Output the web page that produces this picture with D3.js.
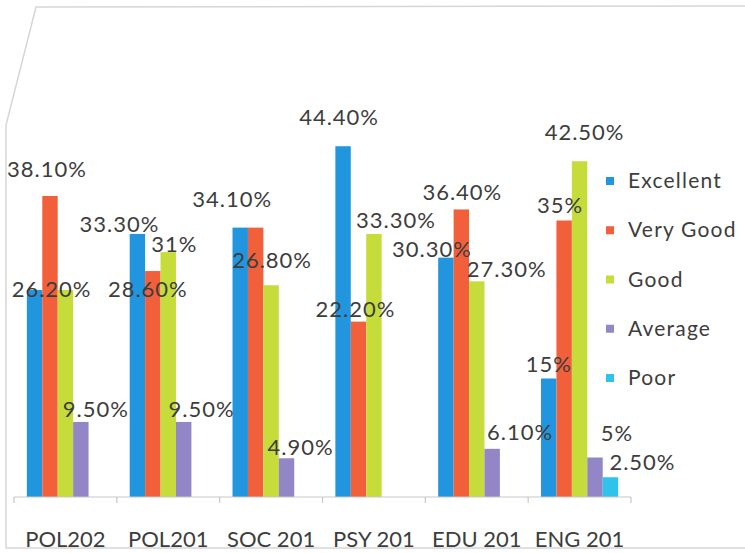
<!DOCTYPE html>
<html>
<head>
<meta charset="utf-8">
<script src="https://cdn.jsdelivr.net/npm/d3@7"></script>
<style>
  html, body { margin: 0; padding: 0; background: #ffffff; }
  svg { display: block; }
  text { font-family: Lato, "Open Sans", "DejaVu Sans", sans-serif; }
</style>
</head>
<body>
<script>
// ---------- data ----------
const categories = ["POL202", "POL201", "SOC 201", "PSY 201", "EDU 201", "ENG 201"];
const seriesNames = ["Excellent", "Very Good", "Good", "Average", "Poor"];
const excellent = [26.2, 33.3, 34.1, 44.4, 30.3, 15];
const veryGood  = [38.1, 28.6, 34.1, 22.2, 36.4, 35];
const good      = [26.2, 31, 26.8, 33.3, 27.3, 42.5];
const average   = [9.5, 9.5, 4.9, 0, 6.1, 5];
const poor      = [0, 0, 0, 0, 0, 2.5];
const seriesValues = [excellent, veryGood, good, average, poor];
const yDomainMax = 50;

// ---------- styling / layout ----------
const W = 745, H = 553;
const colors = ["#2196df", "#f1603b", "#c6dc3a", "#9286c6", "#2fc3ec"];
const textColor = "#3d3d3d";

// manual label placement tweaks (dx, dy) relative to default above-bar position, keyed "cat-series"
const labelNudge = {
  "0-0": [17, 14], "0-1": [-3, -12], "0-3": [15, 2],
  "1-0": [-18, 5], "1-1": [-5, 33], "1-2": [6, 7], "1-3": [18, 2],
  "2-0": [-8, -14], "2-2": [1, -10], "2-3": [14, 4],
  "3-0": [-4, -14], "3-1": [-3, 2], "3-2": [22, 1],
  "4-0": [-14, 6], "4-1": [1, -2], "4-2": [30, 3], "4-3": [28, -2],
  "5-0": [0, 0], "5-1": [-4, -1], "5-2": [5, -14], "5-3": [22, -10], "5-4": [32, 0]
};
// labels that sit exactly under another identical label in the reference
const hiddenLabels = new Set(["0-2", "2-1"]);

const svg = d3.select("body").append("svg").attr("width", W).attr("height", H);

// chart frame (photographed border)
svg.append("polyline")
  .attr("points", "745,6 36,7 6,125 6,548 745,548")
  .attr("fill", "none").attr("stroke", "#d6d6d6").attr("stroke-width", 1.5);

const x0 = d3.scaleBand().domain(categories).range([14, 631])
  .paddingInner(0.25).paddingOuter(0.125);
const x1 = d3.scaleBand().domain(seriesNames).range([0, x0.bandwidth()]);
const y = d3.scaleLinear().domain([0, yDomainMax]).range([497, 102]);

// bars
const rows = [];
categories.forEach((c, i) => {
  seriesNames.forEach((s, j) => {
    rows.push({ c, s, i, j, v: seriesValues[j][i] });
  });
});

svg.append("g").selectAll("rect")
  .data(rows.filter(d => d.v > 0))
  .join("rect")
  .attr("x", d => x0(d.c) + x1(d.s))
  .attr("y", d => y(d.v))
  .attr("width", x1.bandwidth())
  .attr("height", d => y(0) - y(d.v))
  .attr("fill", d => colors[d.j]);

// x axis
const axisG = svg.append("g").attr("transform", `translate(0,${y(0)})`);
const step = x0.step();
const r0 = x0.range()[0];
axisG.append("line").attr("x1", r0).attr("x2", x0.range()[1])
  .attr("y1", 0).attr("y2", 0).attr("stroke", "#c8c8c8").attr("stroke-width", 1.2);
d3.range(categories.length + 1).forEach(k => {
  axisG.append("line").attr("x1", r0 + k * step).attr("x2", r0 + k * step)
    .attr("y1", 0).attr("y2", 6).attr("stroke", "#c8c8c8").attr("stroke-width", 1.2);
});
axisG.selectAll("text.cat").data(categories).join("text")
  .attr("class", "cat")
  .attr("x", d => x0(d) + x0.bandwidth() / 2)
  .attr("y", 50)
  .attr("text-anchor", "middle")
  .attr("font-size", 22)
  .attr("fill", textColor)
  .text(d => d);

// data labels
const fmt = v => Number.isInteger(v) ? `${v}%` : `${v.toFixed(2)}%`;
svg.append("g").selectAll("text")
  .data(rows.filter(d => d.v > 0 && !hiddenLabels.has(`${d.i}-${d.j}`)))
  .join("text")
  .attr("x", d => x0(d.c) + x1(d.s) + x1.bandwidth() / 2 + (labelNudge[`${d.i}-${d.j}`] || [0, 0])[0])
  .attr("y", d => y(d.v) - 7 + (labelNudge[`${d.i}-${d.j}`] || [0, 0])[1])
  .attr("text-anchor", "middle")
  .attr("font-size", 22)
  .attr("letter-spacing", 1)
  .attr("fill", textColor)
  .text(d => fmt(d.v));

// legend
const legend = svg.append("g").attr("transform", "translate(606,0)");
const legY = d3.scalePoint().domain(seriesNames).range([188, 385]);
seriesNames.forEach((s, j) => {
  legend.append("rect").attr("x", 0).attr("y", legY(s) - 11).attr("width", 8).attr("height", 8)
    .attr("fill", colors[j]);
  legend.append("text").attr("x", 22).attr("y", legY(s))
    .attr("font-size", 21).attr("letter-spacing", 1.2).attr("fill", textColor).text(s);
});
</script>
</body>
</html>
